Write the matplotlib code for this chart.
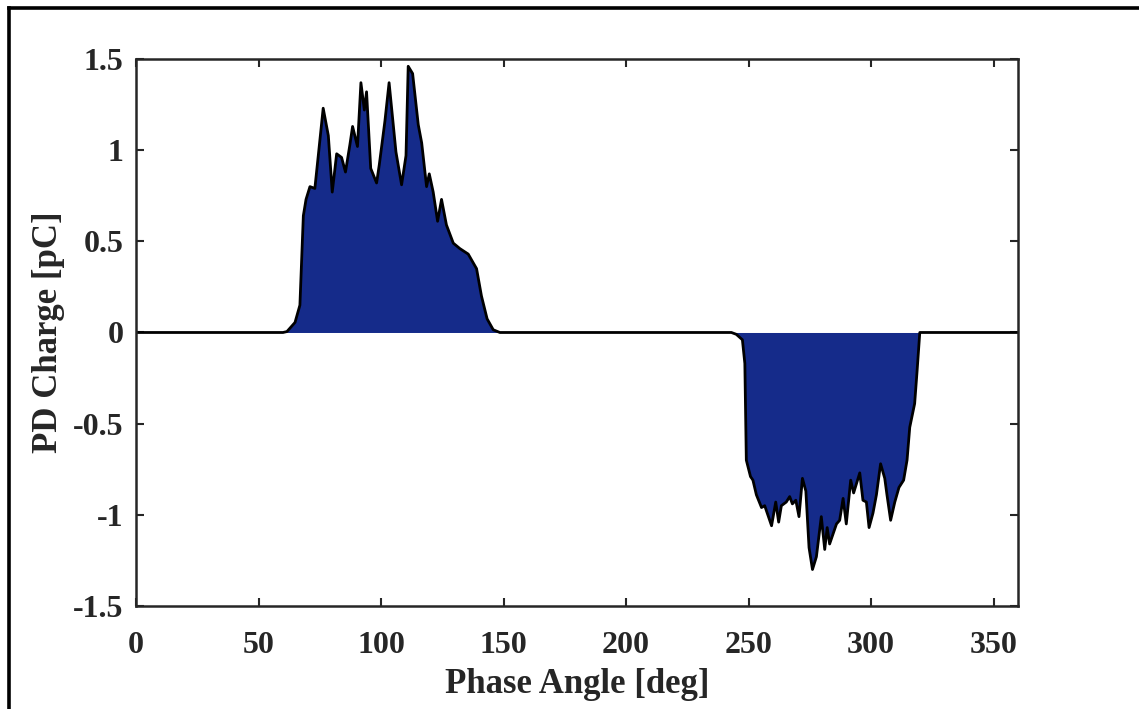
import matplotlib
matplotlib.use('Agg')
import matplotlib.pyplot as plt
from matplotlib.lines import Line2D

plt.rcParams['font.family'] = ['Liberation Serif', 'DejaVu Serif']
plt.rcParams['font.weight'] = 'bold'

# phase angle [deg] and PD charge [pC]
phase = [0, 60, 61.6, 64.9, 66.9, 68.3, 69.4, 71.0, 73.0, 74.4, 76.4, 78.5,
         80.1, 81.9, 83.9, 85.5, 87.3, 88.4, 90.4, 91.8, 93.2, 94.1, 95.8,
         98.2, 99.3, 101.6, 103.3, 106.1, 108.4, 110.2, 111.1, 112.9, 115.2,
         116.6, 118.6, 119.7, 121.3, 123.1, 124.7, 126.7, 129.5, 132.2, 135.6,
         139.0, 141.0, 143.3, 145.8, 148.5,
         243.0, 245.0, 247.5, 248.5, 249.1, 250.8, 251.8, 253.2, 255.3, 256.6,
         259.4, 261.1, 262.3, 263.4, 265.4, 266.8, 267.9, 269.3, 270.6, 272.0,
         273.4, 274.7, 276.1, 277.7, 279.7, 281.1, 282.1, 283.1, 285.9, 287.2,
         288.6, 289.9, 291.7, 292.9, 295.4, 296.7, 298.1, 299.2, 300.8, 302.2,
         303.9, 305.6, 306.5, 308.0, 309.7, 311.4, 313.3, 314.7, 315.8, 317.8,
         318.8, 319.9, 360]
charge = [0, 0, 0.005, 0.055, 0.15, 0.64, 0.73, 0.80, 0.79, 0.97, 1.23, 1.08,
          0.77, 0.98, 0.96, 0.88, 1.03, 1.13, 1.02, 1.37, 1.22, 1.32, 0.90,
          0.82, 0.92, 1.16, 1.37, 0.99, 0.81, 0.97, 1.46, 1.42, 1.14,
          1.04, 0.80, 0.87, 0.77, 0.61, 0.73, 0.59, 0.49, 0.46, 0.43,
          0.35, 0.20, 0.075, 0.015, 0,
          0, -0.01, -0.04, -0.17, -0.70, -0.79, -0.81, -0.89, -0.96, -0.95,
          -1.06, -0.93, -1.04, -0.95, -0.93, -0.90, -0.94, -0.92, -1.01, -0.80,
          -0.87, -1.18, -1.30, -1.23, -1.01, -1.19, -1.07, -1.16, -1.05, -1.03,
          -0.91, -1.05, -0.81, -0.88, -0.77, -0.92, -0.93, -1.07, -0.99, -0.89,
          -0.72, -0.80, -0.89, -1.03, -0.93, -0.85, -0.81, -0.70, -0.52, -0.39,
          -0.21, 0, 0]

xticks = [0, 50, 100, 150, 200, 250, 300, 350]
yticks = [-1.5, -1, -0.5, 0, 0.5, 1, 1.5]
ytick_labels = ['-1.5', '-1', '-0.5', '0', '0.5', '1', '1.5']

fig = plt.figure(figsize=(11.39, 7.09), dpi=100)
ax = fig.add_axes([0.1194, 0.1453, 0.7744, 0.7715])

ax.fill_between(phase, 0, charge, color='#152b8a', lw=0)
ax.plot(phase, charge, color='black', lw=2, solid_joinstyle='round')

ax.set_xlim(0, 360)
ax.set_ylim(-1.5, 1.5)
ax.set_xticks(xticks)
ax.set_yticks(yticks)
ax.set_yticklabels(ytick_labels)
ax.tick_params(direction='in', length=6, width=1.5, top=True, right=True,
               labelsize=23, colors='#262626')
ax.tick_params(axis='x', pad=18)
ax.tick_params(axis='y', pad=9)
for lab in ax.get_xticklabels() + ax.get_yticklabels():
    lab.set_fontweight('bold')
for sp in ax.spines.values():
    sp.set_linewidth(1.8)
    sp.set_color('#262626')

ax.set_xlabel('Phase Angle [deg]', fontsize=25, fontweight='bold', color='#262626', labelpad=6)
ax.set_ylabel('PD Charge [pC]', fontsize=25, fontweight='bold', color='#262626', labelpad=6)

# outer frame (left and top edges visible)
fig.add_artist(Line2D([0.0079, 0.0079], [0, 0.989], transform=fig.transFigure, color='black', lw=2.6))
fig.add_artist(Line2D([0.0079, 1.0], [0.989, 0.989], transform=fig.transFigure, color='black', lw=2.6))

fig.savefig('out.png', dpi=100)
